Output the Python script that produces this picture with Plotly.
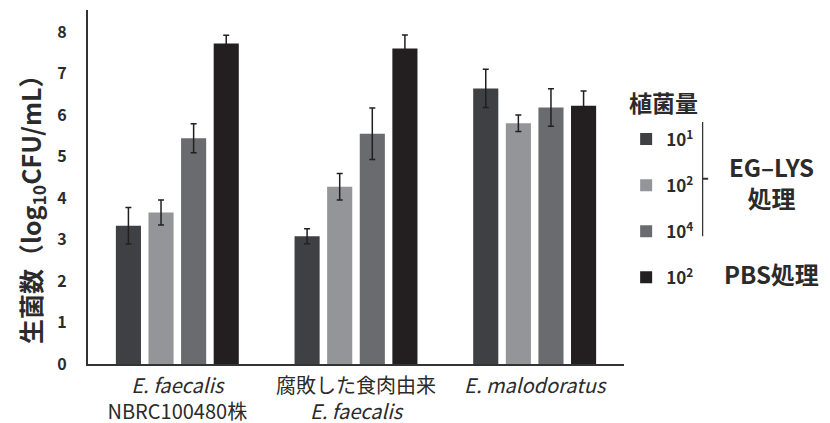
import plotly.graph_objects as go

categories = ["<i>E. faecalis</i><br>NBRC100480株",
              "腐敗した食肉由来<br><i>E. faecalis</i>",
              "<i>E. malodoratus</i>"]
series_names = ["10<sup>1</sup>", "10<sup>2</sup>", "10<sup>4</sup>", "10<sup>2</sup> "]
lys_1e1 = [3.33, 3.08, 6.64]
lys_1e2 = [3.65, 4.27, 5.80]
lys_1e4 = [5.44, 5.55, 6.18]
pbs_1e2 = [7.72, 7.60, 6.22]
err_1e1 = [0.44, 0.18, 0.46]
err_1e2 = [0.30, 0.32, 0.20]
err_1e4 = [0.35, 0.62, 0.45]
err_pbs = [0.20, 0.33, 0.36]
y_ticks = [0, 1, 2, 3, 4, 5, 6, 7, 8]

colors = ["#3f4043", "#939598", "#6a6b6e", "#231f20"]
FONT = "Noto Sans CJK JP"
TXT = "#2b2b2b"

fig = go.Figure()
for name, vals, errs, col, grp in zip(series_names,
                                      [lys_1e1, lys_1e2, lys_1e4, pbs_1e2],
                                      [err_1e1, err_1e2, err_1e4, err_pbs],
                                      colors, ["a", "b", "c", "d"]):
    fig.add_trace(go.Bar(
        x=categories, y=vals, name=name, legendgroup=grp,
        marker=dict(color=col, line=dict(width=0)),
        error_y=dict(type="data", array=errs, color="#231f20", thickness=1.5, width=3),
    ))

fig.update_layout(
    width=830, height=423,
    margin=dict(l=88, r=206, t=10, b=59),
    paper_bgcolor="white", plot_bgcolor="white",
    barmode="group", bargap=0.27, bargroupgap=0.23,
    font=dict(family=FONT, color=TXT),
    showlegend=True,
    legend=dict(
        x=1.004, y=0.685, xanchor="left", yanchor="top",
        font=dict(family=FONT, size=17, color=TXT, weight="bold"),
        tracegroupgap=21, itemwidth=30,
    ),
)
fig.update_xaxes(
    showline=True, linecolor="#333333", linewidth=2, automargin=False,
    ticks="", tickfont=dict(family=FONT, size=20, color=TXT), ticklabelstandoff=3,
)
fig.update_yaxes(
    range=[0, 8.53], tickvals=y_ticks, showgrid=False, zeroline=False, automargin=False,
    showline=True, linecolor="#333333", linewidth=2, ticks="",
    tickfont=dict(family=FONT, size=16, color=TXT, weight="bold"),
    ticklabelstandoff=16,
)

# y-axis title
fig.add_annotation(xref="paper", yref="paper", x=-0.1045, y=0.455, textangle=-90,
                   xanchor="center", yanchor="middle", showarrow=False,
                   text="生菌数（log<sub>10</sub>CFU/mL）",
                   font=dict(family=FONT, size=25, color=TXT, weight="bold"))
# legend title
fig.add_annotation(xref="paper", yref="paper", x=1.073, y=0.740, xanchor="center", yanchor="middle",
                   showarrow=False, text="植菌量",
                   font=dict(family=FONT, size=23, color=TXT, weight="bold"))
# bracket grouping the EG-LYS items
fig.add_shape(type="path", xref="paper", yref="paper",
              path="M 1.134 0.681 L 1.146 0.681 L 1.146 0.523 L 1.157 0.523 M 1.146 0.523 L 1.146 0.364 L 1.134 0.364",
              line=dict(color="#333333", width=2))
fig.add_annotation(xref="paper", yref="paper", x=1.276, y=0.514, xanchor="center", yanchor="middle",
                   text="EG–LYS<br>処理", showarrow=False,
                   font=dict(family=FONT, size=24, color=TXT, weight="bold"))
fig.add_annotation(xref="paper", yref="paper", x=1.276, y=0.257, xanchor="center", yanchor="middle",
                   text="PBS処理", showarrow=False,
                   font=dict(family=FONT, size=24, color=TXT, weight="bold"))

fig.write_html("out.html", config={"displayModeBar": False},
               post_script="document.body.style.margin='0';document.body.style.overflow='hidden';")
